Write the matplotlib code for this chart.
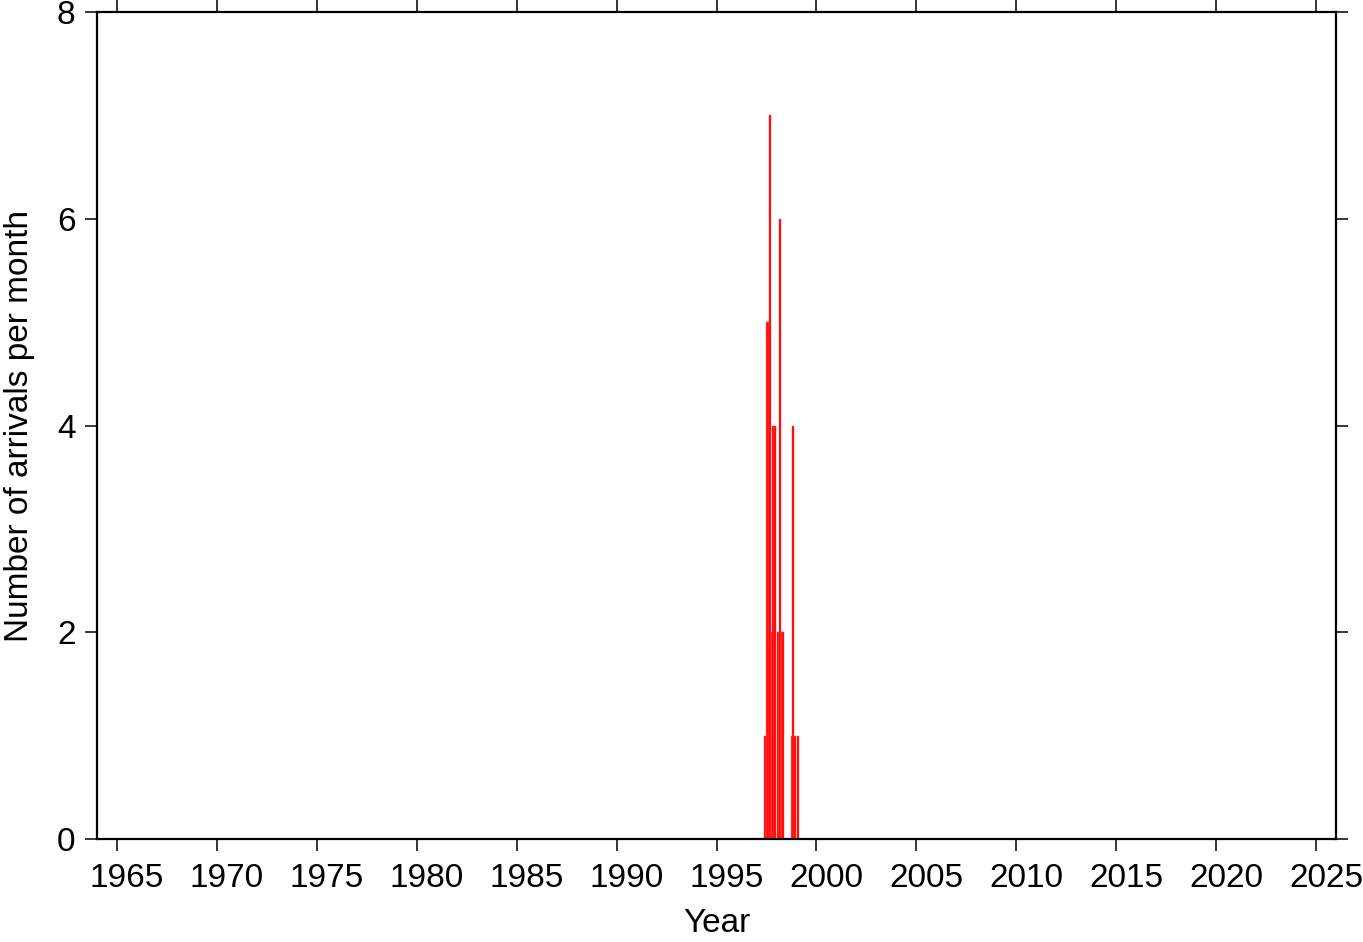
import numpy as np
import matplotlib
matplotlib.use("Agg")
import matplotlib.pyplot as plt
import matplotlib.transforms as mtrans

plt.rcParams['font.family'] = ['Liberation Sans', 'DejaVu Sans']

# monthly arrival counts, May 1997 .. Jan 1999
start_year = 1997
start_month = 5
counts = [1, 5, 5, 7, 2, 4, 4, 0, 2, 6, 2, 2, 0, 0, 0, 0, 1, 4, 1, 0, 1]

year_ticks = list(range(1965, 2030, 5))
count_ticks = [0, 2, 4, 6, 8]

months = np.arange(len(counts))
t = start_year + (start_month - 1 + months) / 12.0

fig = plt.figure(figsize=(13.63, 9.42), dpi=100)
ax = fig.add_axes([0.0712, 0.1093, 0.9802 - 0.0712, 0.9873 - 0.1093])

ax.bar(t + 0.04, counts, width=1/12, align="edge", color="#ff0000",
       edgecolor="#ff5050", linewidth=0.3)

ax.set_xlim(1964, 2026)
ax.set_ylim(0, 8)
ax.set_xticks(year_ticks)
ax.set_yticks(count_ticks)
ax.tick_params(direction="out", length=8.6, width=1.1, labelsize=24,
               top=True, right=True, pad=7)
ax.tick_params(axis="x", pad=9)
for s in ax.spines.values():
    s.set_linewidth(1.6)

off = mtrans.ScaledTranslation(0.1, 0, fig.dpi_scale_trans)
for lab in ax.get_xticklabels():
    lab.set_transform(lab.get_transform() + off)

ax.set_xlabel("Year", fontsize=24, labelpad=10)
ax.set_ylabel("Number of arrivals per month", fontsize=24, labelpad=16)

plt.savefig("out.png", dpi=100)
